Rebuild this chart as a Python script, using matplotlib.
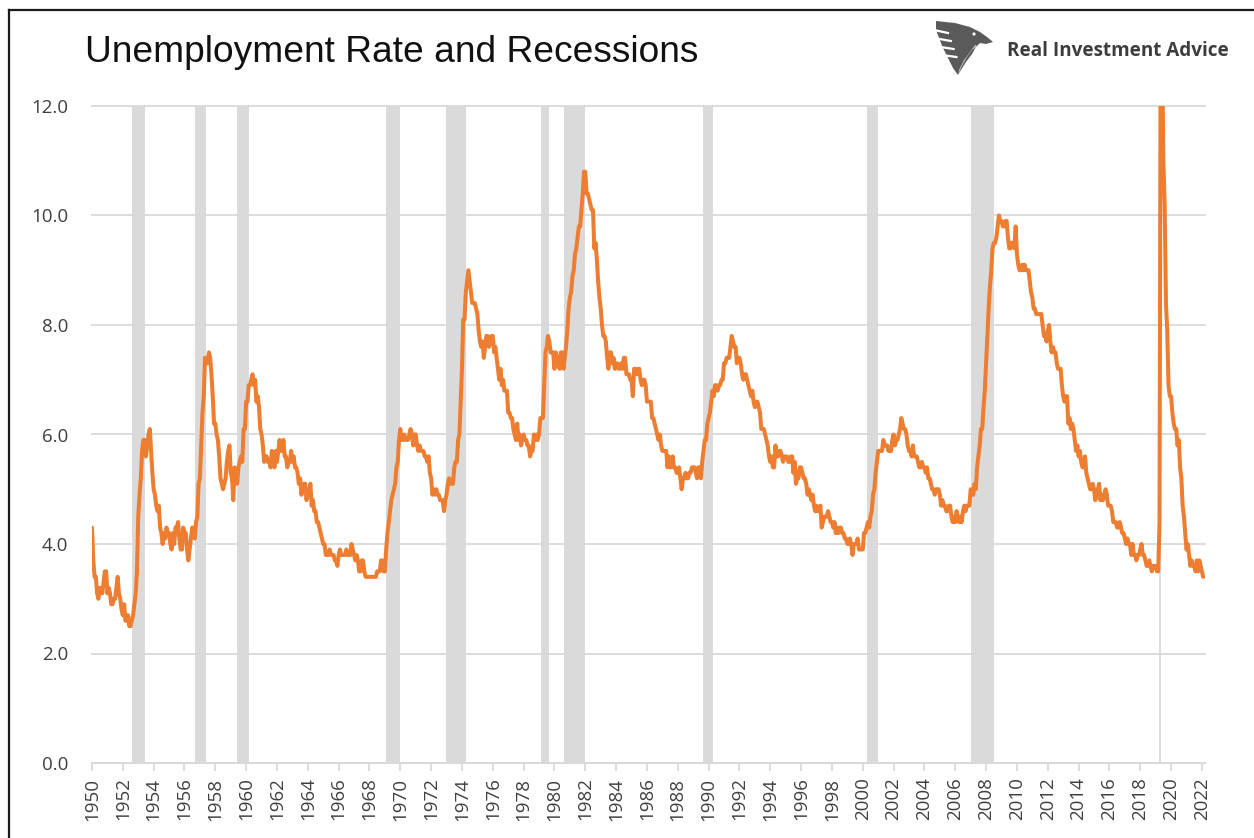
import matplotlib
matplotlib.use("Agg")
import matplotlib.pyplot as plt
from matplotlib.lines import Line2D
from matplotlib.patches import Polygon, Circle
import numpy as np

plt.rcParams["font.family"] = ["Open Sans", "DejaVu Sans"]

# ---------------- data ----------------
# Monthly unemployment rate (%), as plotted: the first point sits on the "1950" tick
data_start = (1950, 12)          # (year, month) of the first value
unemployment_rate = [
    4.3,
    3.7, 3.4, 3.4, 3.1, 3.0, 3.2, 3.1, 3.1, 3.3, 3.5, 3.5, 3.1,
    3.2, 3.1, 2.9, 2.9, 3.0, 3.0, 3.2, 3.4, 3.1, 3.0, 2.8, 2.7,
    2.9, 2.6, 2.6, 2.7, 2.5, 2.5, 2.6, 2.7, 2.9, 3.1, 3.5, 4.5,
    4.9, 5.2, 5.7, 5.9, 5.9, 5.6, 5.8, 6.0, 6.1, 5.7, 5.3, 5.0,
    4.9, 4.7, 4.6, 4.7, 4.3, 4.2, 4.0, 4.2, 4.1, 4.3, 4.2, 4.2,
    4.0, 3.9, 4.2, 4.0, 4.3, 4.3, 4.4, 4.1, 3.9, 3.9, 4.3, 4.2,
    4.2, 3.9, 3.7, 3.9, 4.1, 4.3, 4.2, 4.1, 4.4, 4.5, 5.1, 5.2,
    5.8, 6.4, 6.7, 7.4, 7.4, 7.3, 7.5, 7.4, 7.1, 6.7, 6.2, 6.2,
    6.0, 5.9, 5.6, 5.2, 5.1, 5.0, 5.1, 5.2, 5.5, 5.7, 5.8, 5.3,
    5.2, 4.8, 5.4, 5.2, 5.1, 5.4, 5.5, 5.6, 5.5, 6.1, 6.1, 6.6,
    6.6, 6.9, 6.9, 7.0, 7.1, 6.9, 7.0, 6.6, 6.7, 6.5, 6.1, 6.0,
    5.8, 5.5, 5.6, 5.6, 5.5, 5.5, 5.4, 5.7, 5.6, 5.4, 5.7, 5.5,
    5.7, 5.9, 5.7, 5.7, 5.9, 5.6, 5.6, 5.4, 5.5, 5.5, 5.7, 5.5,
    5.6, 5.4, 5.4, 5.3, 5.1, 5.2, 4.9, 5.0, 5.1, 5.1, 4.8, 5.0,
    4.9, 5.1, 4.7, 4.8, 4.6, 4.6, 4.4, 4.4, 4.3, 4.2, 4.1, 4.0,
    4.0, 3.8, 3.8, 3.8, 3.9, 3.8, 3.8, 3.8, 3.7, 3.7, 3.6, 3.8,
    3.9, 3.8, 3.8, 3.8, 3.8, 3.9, 3.8, 3.8, 3.8, 4.0, 3.9, 3.8,
    3.7, 3.8, 3.7, 3.5, 3.5, 3.7, 3.7, 3.5, 3.4, 3.4, 3.4, 3.4,
    3.4, 3.4, 3.4, 3.4, 3.4, 3.5, 3.5, 3.5, 3.7, 3.7, 3.5, 3.5,
    3.9, 4.2, 4.4, 4.6, 4.8, 4.9, 5.0, 5.1, 5.4, 5.5, 5.9, 6.1,
    5.9, 5.9, 6.0, 5.9, 5.9, 5.9, 6.0, 6.1, 6.0, 5.8, 6.0, 6.0,
    5.8, 5.7, 5.8, 5.7, 5.7, 5.7, 5.6, 5.6, 5.5, 5.6, 5.3, 5.2,
    4.9, 5.0, 4.9, 5.0, 4.9, 4.9, 4.8, 4.8, 4.8, 4.6, 4.8, 4.9,
    5.1, 5.2, 5.1, 5.1, 5.1, 5.4, 5.5, 5.5, 5.9, 6.0, 6.6, 7.2,
    8.1, 8.1, 8.6, 8.8, 9.0, 8.8, 8.6, 8.4, 8.4, 8.4, 8.3, 8.2,
    7.9, 7.7, 7.6, 7.7, 7.4, 7.6, 7.8, 7.8, 7.6, 7.7, 7.8, 7.8,
    7.5, 7.6, 7.4, 7.2, 7.0, 7.2, 6.9, 7.0, 6.8, 6.8, 6.8, 6.4,
    6.4, 6.3, 6.3, 6.1, 6.0, 5.9, 6.2, 5.9, 6.0, 5.8, 5.9, 6.0,
    5.9, 5.9, 5.8, 5.8, 5.6, 5.7, 5.7, 6.0, 5.9, 6.0, 5.9, 6.0,
    6.3, 6.3, 6.3, 6.9, 7.5, 7.6, 7.8, 7.7, 7.5, 7.5, 7.5, 7.2,
    7.5, 7.4, 7.4, 7.2, 7.5, 7.5, 7.2, 7.4, 7.6, 7.9, 8.3, 8.5,
    8.6, 8.9, 9.0, 9.3, 9.4, 9.6, 9.8, 9.8, 10.1, 10.4, 10.8, 10.8,
    10.4, 10.4, 10.3, 10.2, 10.1, 10.1, 9.4, 9.5, 9.2, 8.8, 8.5, 8.3,
    8.0, 7.8, 7.8, 7.7, 7.4, 7.2, 7.5, 7.5, 7.3, 7.4, 7.2, 7.3,
    7.3, 7.2, 7.2, 7.3, 7.2, 7.4, 7.4, 7.1, 7.1, 7.1, 7.0, 7.0,
    6.7, 7.2, 7.2, 7.1, 7.2, 7.2, 7.0, 6.9, 7.0, 7.0, 6.9, 6.6,
    6.6, 6.6, 6.6, 6.3, 6.3, 6.2, 6.1, 6.0, 5.9, 6.0, 5.8, 5.7,
    5.7, 5.7, 5.7, 5.4, 5.6, 5.4, 5.4, 5.6, 5.4, 5.4, 5.3, 5.3,
    5.4, 5.2, 5.0, 5.2, 5.2, 5.3, 5.2, 5.2, 5.3, 5.3, 5.4, 5.4,
    5.4, 5.3, 5.2, 5.4, 5.4, 5.2, 5.5, 5.7, 5.9, 5.9, 6.2, 6.3,
    6.4, 6.6, 6.8, 6.7, 6.9, 6.9, 6.8, 6.9, 6.9, 7.0, 7.0, 7.3,
    7.3, 7.4, 7.4, 7.4, 7.6, 7.8, 7.7, 7.6, 7.6, 7.3, 7.4, 7.4,
    7.3, 7.1, 7.0, 7.1, 7.1, 7.0, 6.9, 6.8, 6.7, 6.8, 6.6, 6.5,
    6.6, 6.6, 6.5, 6.4, 6.1, 6.1, 6.1, 6.0, 5.9, 5.8, 5.6, 5.5,
    5.6, 5.4, 5.4, 5.8, 5.6, 5.6, 5.7, 5.7, 5.6, 5.5, 5.6, 5.6,
    5.6, 5.5, 5.5, 5.6, 5.6, 5.3, 5.5, 5.1, 5.2, 5.2, 5.4, 5.4,
    5.3, 5.2, 5.2, 5.1, 4.9, 5.0, 4.9, 4.8, 4.9, 4.7, 4.6, 4.7,
    4.6, 4.6, 4.7, 4.3, 4.4, 4.5, 4.5, 4.5, 4.6, 4.5, 4.4, 4.4,
    4.3, 4.4, 4.2, 4.3, 4.2, 4.3, 4.3, 4.2, 4.2, 4.1, 4.1, 4.0,
    4.0, 4.1, 4.0, 3.8, 4.0, 4.0, 4.0, 4.1, 3.9, 3.9, 3.9, 3.9,
    4.2, 4.2, 4.3, 4.4, 4.3, 4.5, 4.6, 4.9, 5.0, 5.3, 5.5, 5.7,
    5.7, 5.7, 5.7, 5.9, 5.8, 5.8, 5.8, 5.7, 5.7, 5.7, 5.9, 6.0,
    5.8, 5.9, 5.9, 6.0, 6.1, 6.3, 6.2, 6.1, 6.1, 6.0, 5.8, 5.7,
    5.7, 5.6, 5.8, 5.6, 5.6, 5.6, 5.5, 5.4, 5.4, 5.5, 5.4, 5.4,
    5.3, 5.4, 5.2, 5.2, 5.1, 5.0, 5.0, 4.9, 5.0, 5.0, 5.0, 4.9,
    4.7, 4.8, 4.7, 4.7, 4.6, 4.6, 4.7, 4.7, 4.5, 4.4, 4.5, 4.4,
    4.6, 4.5, 4.4, 4.5, 4.4, 4.6, 4.7, 4.6, 4.7, 4.7, 4.7, 5.0,
    5.0, 4.9, 5.1, 5.0, 5.4, 5.6, 5.8, 6.1, 6.1, 6.5, 6.8, 7.3,
    7.8, 8.3, 8.7, 9.0, 9.4, 9.5, 9.5, 9.6, 9.8, 10.0, 9.9, 9.9,
    9.8, 9.8, 9.9, 9.9, 9.6, 9.4, 9.4, 9.5, 9.5, 9.4, 9.8, 9.3,
    9.1, 9.0, 9.0, 9.1, 9.0, 9.1, 9.0, 9.0, 9.0, 8.8, 8.6, 8.5,
    8.3, 8.3, 8.2, 8.2, 8.2, 8.2, 8.2, 8.0, 7.8, 7.8, 7.7, 7.9,
    8.0, 7.7, 7.5, 7.6, 7.5, 7.5, 7.3, 7.2, 7.2, 7.2, 6.9, 6.7,
    6.6, 6.7, 6.7, 6.2, 6.3, 6.1, 6.2, 6.1, 5.9, 5.7, 5.8, 5.6,
    5.7, 5.5, 5.4, 5.4, 5.6, 5.3, 5.2, 5.1, 5.0, 5.0, 5.1, 5.0,
    4.8, 4.9, 5.0, 5.1, 4.8, 4.9, 4.8, 4.9, 5.0, 4.9, 4.7, 4.7,
    4.7, 4.6, 4.4, 4.4, 4.4, 4.3, 4.3, 4.4, 4.3, 4.2, 4.2, 4.1,
    4.0, 4.1, 4.0, 4.0, 3.8, 4.0, 3.8, 3.8, 3.7, 3.8, 3.8, 3.9,
    4.0, 3.8, 3.8, 3.7, 3.6, 3.6, 3.7, 3.6, 3.5, 3.6, 3.6, 3.6,
    3.5, 3.5, 4.4, 14.7, 13.2, 11.0, 10.2, 8.4, 7.9, 6.9, 6.7, 6.7,
    6.4, 6.2, 6.1, 6.1, 5.8, 5.9, 5.4, 5.2, 4.7, 4.5, 4.2, 3.9,
    4.0, 3.8, 3.6, 3.7, 3.6, 3.6, 3.5, 3.7, 3.5, 3.7, 3.6, 3.5,
    3.4,
]

# Recessions: first and last flagged month (year, month)
recession_start = [(1953, 8), (1957, 9), (1960, 5), (1970, 1), (1973, 12), (1980, 2),
                   (1981, 8), (1990, 8), (2001, 4), (2008, 1), (2020, 3)]
recession_end = [(1954, 5), (1958, 4), (1961, 2), (1970, 11), (1975, 3), (1980, 7),
                 (1982, 11), (1991, 3), (2001, 11), (2009, 6), (2020, 4)]

year_labels = [str(y) for y in range(1950, 2023, 2)]
y_ticks = [0, 2, 4, 6, 8, 10, 12]

title = "Unemployment Rate and Recessions"
brand = "Real Investment Advice"

# ---------------- drawing ----------------
W, H = 1254, 838
fig = plt.figure(figsize=(W / 100, H / 100), dpi=100)
fig.patch.set_facecolor("white")

ax = fig.add_axes([92 / W, 1 - 763 / H, (1205 - 92) / W, (763 - 106) / H])

axis_origin = 1950.0


def month_pos(ym):
    y, m = ym
    idx = (y - data_start[0]) * 12 + (m - data_start[1])
    return axis_origin + idx / 12.0


x = axis_origin + np.arange(len(unemployment_rate)) / 12.0
ax.plot(x, unemployment_rate, color="#ED7D31", lw=2.9, solid_joinstyle="round",
        solid_capstyle="round", zorder=3)

for s, e in zip(recession_start, recession_end):
    ax.axvspan(month_pos(s) - 1 / 24, month_pos(e) + 1 / 24, ymin=0, ymax=1,
               color="#dadada", lw=0, zorder=0.5)

ax.set_xlim(1950, 2022.2)
ax.set_ylim(0, 12)

ax.set_yticks(y_ticks)
ax.set_yticklabels([f"{v:.1f}" for v in y_ticks])
xt = [int(s) for s in year_labels]
ax.set_xticks(xt)
ax.set_xticklabels(year_labels, rotation=90)

ax.tick_params(axis="both", labelsize=13.5, labelcolor="#3f3f3f")

ax.set_axisbelow(True)
ax.yaxis.grid(True, color="#d9d9d9", lw=1.3, zorder=1)
for gl in ax.get_ygridlines():
    gl.set_clip_on(False)
ax.xaxis.grid(False)

for sp in ["top", "right", "left"]:
    ax.spines[sp].set_visible(False)
ax.spines["bottom"].set_color("#d9d9d9")
ax.spines["bottom"].set_linewidth(1.3)
ax.tick_params(axis="x", length=5.5, width=1.3, color="#d9d9d9", pad=5)
ax.tick_params(axis="y", length=0, pad=17)
ax.set_facecolor("white")

# ---------------- title & brand ----------------
renderer = fig.canvas.get_renderer()


def fit_text(s, x0, x1, base, **kw):
    t = fig.text(x0 / W, 1 - base / H, s, ha="left", va="baseline", **kw)
    bb = t.get_window_extent(renderer=renderer)
    t.set_fontsize(t.get_fontsize() * (x1 - x0) / bb.width)
    return t


fit_text(title, 85, 698, 62, fontsize=27, family="Liberation Sans", color="#111111")
fit_text(brand, 1007, 1230, 56, fontsize=14, family="Open Sans", weight="bold",
         color="#3d3d3d")

# eagle logo (simplified)
lax = fig.add_axes([933 / W, 1 - 77 / H, 62 / W, 59 / H])
lax.set_xlim(933, 995)
lax.set_ylim(77, 18)
lax.axis("off")
body = [(936, 21), (955, 23), (970, 27), (980, 32), (987, 37), (993, 42), (986, 44),
        (980, 43), (976, 47), (972, 54), (966, 62), (961, 70), (958, 75), (953, 68),
        (948, 58), (943, 48), (939, 38), (936, 30)]
lax.add_patch(Polygon(body, closed=True, fc="#5a5a5a", ec="none"))
inner = [(975, 45), (970, 52), (964, 60), (959, 70), (958, 75), (962, 66), (967, 57),
         (972, 50), (978, 46)]
lax.add_patch(Polygon(inner, closed=True, fc="#bdbdbd", ec="none"))
for yy in [30, 38, 46, 54]:
    lax.plot([934, 948 + (yy - 30) * 0.35], [yy, yy + 3], color="white", lw=1.6)
lax.add_patch(Circle((974, 34), 1.6, fc="white", ec="none"))

# screenshot frame
fig.add_artist(Line2D([9 / W, 1], [1 - 10 / H, 1 - 10 / H], transform=fig.transFigure,
                      color="#1a1a1a", lw=1.6))
fig.add_artist(Line2D([9 / W, 9 / W], [0, 1 - 10 / H], transform=fig.transFigure,
                      color="#1a1a1a", lw=1.6))

fig.savefig("out.png", dpi=100, facecolor="white")
